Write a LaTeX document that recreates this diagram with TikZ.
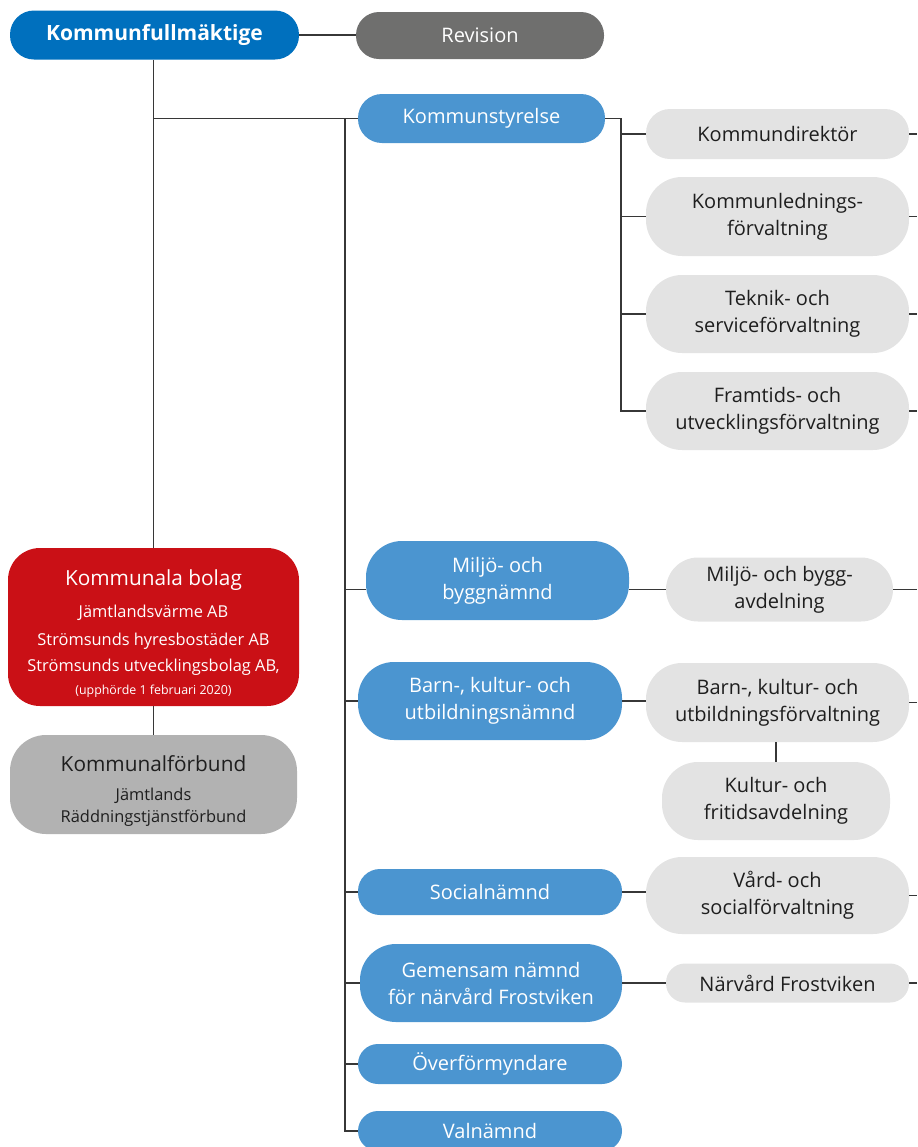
\documentclass[tikz,border=0pt]{standalone}
\usepackage{fontspec}
\setmainfont{Open Sans}
\definecolor{kfblue}{RGB}{0,112,190}
\definecolor{ksblue}{RGB}{75,149,208}
\definecolor{revgray}{RGB}{111,111,110}
\definecolor{lgray}{RGB}{227,227,227}
\definecolor{fgray}{RGB}{178,178,178}
\definecolor{bred}{RGB}{202,16,22}
\definecolor{linecol}{RGB}{55,55,55}
\definecolor{txtdark}{RGB}{30,30,30}

\begin{document}
\begin{tikzpicture}[x=0.5pt,y=-0.5pt,
	box/.style={inner sep=0pt, align=center, font=\fontsize{10}{13.5}\selectfont},
	blue/.style={box, fill=ksblue, text=white, rounded corners=#1},
	blue/.default=18pt,
	grey/.style={box, fill=lgray, text=txtdark, rounded corners=#1},
	grey/.default=18pt,
	ln/.style={draw=linecol, line width=0.75pt}]
	\useasboundingbox (0,0) rectangle (917,1147);
	\coordinate (re) at (917,0);
	\coordinate (trunk) at (345,0);
	\coordinate (bus) at (621,0);
	\node[box, fill=kfblue, text=white, rounded corners=12pt, minimum width=144.5pt, minimum height=24.5pt, font=\fontsize{10.5}{13}\selectfont\bfseries] (kf) at (154.5,35) {Kommunfullmäktige};
	\node[box, fill=revgray, text=white, rounded corners=11.5pt, minimum width=124pt, minimum height=23.5pt] (rev) at (480,35.5) {Revision};
	\node[blue=12pt, minimum width=123.5pt, minimum height=24.5pt] (ks) at (481.5,118.5) {Kommunstyrelse};
	\node[grey=12pt, minimum width=131.5pt, minimum height=25pt] (kd) at (777.5,134) {Kommundirektör};
	\node[grey, minimum width=131.5pt, minimum height=39.5pt] (kl) at (777.5,216.5) {Kommunlednings-\\förvaltning};
	\node[grey, minimum width=131.5pt, minimum height=39pt] (tk) at (777.5,314) {Teknik- och\\serviceförvaltning};
	\node[grey, minimum width=131.5pt, minimum height=39pt] (fu) at (777.5,411) {Framtids- och\\utvecklingsförvaltning};
	\node[box, fill=bred, text=white, rounded corners=16pt, minimum width=145.5pt, minimum height=79pt] (bolag) at (153.5,627) {\fontsize{10.4}{16}\selectfont\rule{0pt}{14pt}Kommunala bolag\\[2.5pt]\fontsize{8.2}{14}\selectfont Jämtlandsvärme AB\\[0.5pt]\fontsize{8.2}{13}\selectfont Strömsunds hyresbostäder AB\\[-0.5pt]\fontsize{8.2}{11.5}\selectfont Strömsunds utvecklingsbolag AB,\\[-2pt]\fontsize{6.2}{8}\selectfont (upphörde 1 februari 2020)};
	\node[box, fill=fgray, text=txtdark, rounded corners=18pt, minimum width=143.5pt, minimum height=49.5pt] (forb) at (153.5,784.5) {\fontsize{10.4}{14.5}\selectfont\rule{0pt}{14pt}Kommunalförbund\\[1pt]\fontsize{8.2}{11}\selectfont Jämtlands\\[-2.5pt]\fontsize{8.2}{11}\selectfont Räddningstjänstförbund};
	\node[blue, minimum width=131.5pt, minimum height=39.5pt] (mb) at (497.5,580.5) {Miljö- och\\byggnämnd};
	\node[grey=16pt, minimum width=113.5pt, minimum height=32pt] (mba) at (779.5,589.5) {Miljö- och bygg-\\avdelning};
	\node[blue, minimum width=132pt, minimum height=39pt] (bku) at (490,701) {Barn-, kultur- och\\utbildningsnämnd};
	\node[grey, minimum width=131.5pt, minimum height=39.5pt] (bkf) at (777.5,702.5) {Barn-, kultur- och\\utbildningsförvaltning};
	\node[grey, minimum width=114pt, minimum height=39pt] (kfa) at (776,801) {Kultur- och\\fritidsavdelning};
	\node[blue=11pt, minimum width=132pt, minimum height=23pt] (soc) at (490,892) {Socialnämnd};
	\node[grey, minimum width=131.5pt, minimum height=38.5pt] (vs) at (777.5,895.5) {Vård- och\\socialförvaltning};
	\node[blue, minimum width=131pt, minimum height=39pt] (gn) at (491,983) {Gemensam nämnd\\för närvård Frostviken};
	\node[grey=9.5pt, minimum width=121.5pt, minimum height=19.5pt] (nf) at (787.5,983) {Närvård Frostviken};
	\node[blue=10pt, minimum width=132pt, minimum height=20pt] (of) at (490,1064) {Överförmyndare};
	\node[blue=10pt, minimum width=132pt, minimum height=20pt] (val) at (490,1131) {Valnämnd};
	\draw[ln] (kf.east) -- (kf.east -| rev.west);
	\draw[ln] (bolag.north |- kf.south) -- (bolag.north);
	\draw[ln] (bolag.south) -- (forb.north);
	\draw[ln] (bolag.north |- ks.west) -- (ks.west);
	\draw[ln] (ks.west -| trunk) |- (val.west);
	\draw[ln] (trunk |- mba.west) -- (mb.west |- mba.west);
	\foreach \n in {bku,soc,gn,of}
		\draw[ln] (trunk |- \n.west) -- (\n.west);
	\draw[ln] (ks.east) -- (ks.east -| bus) |- (fu.west);
	\foreach \n in {kd,kl,tk}
		\draw[ln] (bus |- \n.west) -- (\n.west);
	\draw[ln] (mb.east |- mba.west) -- (mba.west);
	\draw[ln] (bku.east) -- (bku.east -| bkf.west);
	\draw[ln] (bkf.south -| kfa.north) -- (kfa.north);
	\draw[ln] (soc.east) -- (soc.east -| vs.west);
	\draw[ln] (gn) -- (nf);
	\foreach \n in {kd,kl,tk,fu,mba,bkf,vs,nf}
		\draw[ln] (\n.east) -- (\n.east -| re);
\end{tikzpicture}
\end{document}
